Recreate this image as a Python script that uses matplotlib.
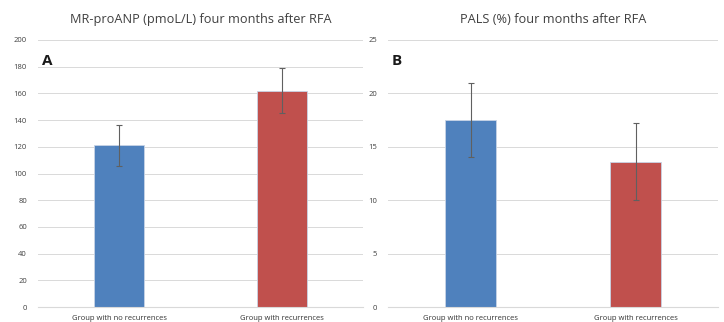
import matplotlib.pyplot as plt

plt.rcParams['font.family'] = ['Open Sans', 'DejaVu Sans']

groups = ["Group with no recurrences", "Group with recurrences"]
anp_mean = [121, 162]
anp_err = [15.5, 17]
pals_mean = [17.5, 13.6]
pals_err = [3.5, 3.6]
colors = ["#4F81BD", "#C0504D"]

fig = plt.figure(figsize=(7.24, 3.22), dpi=100)
ax_a = fig.add_axes([38 / 724, 15 / 322, 325 / 724, 267 / 322])
ax_b = fig.add_axes([388 / 724, 15 / 322, 330 / 724, 267 / 322])


def draw(ax, means, errs, ymax, step, title, letter):
    x = [0, 1]
    ax.bar(x, means, width=0.31, color=colors, edgecolor="#c8d4e6", linewidth=0.6, zorder=2)
    ax.errorbar(x, means, yerr=errs, fmt="none", ecolor="#606060", elinewidth=0.8,
                capsize=2.5, capthick=0.8, zorder=3)
    ax.set_xlim(-0.5, 1.5)
    ax.set_ylim(0, ymax)
    ax.set_yticks(range(0, ymax + 1, step))
    ax.grid(axis="y", color="#d9d9d9", linewidth=0.7, zorder=0)
    for s in ["top", "right", "left"]:
        ax.spines[s].set_visible(False)
    ax.spines["bottom"].set_color("#d9d9d9")
    ax.tick_params(axis="y", length=0, labelsize=5.5, labelcolor="#404040", pad=8)
    ax.tick_params(axis="x", length=0, labelsize=5.5, labelcolor="#333333", pad=6)
    ax.set_xticks(x)
    ax.set_xticklabels(groups)
    ax.set_title(title, fontsize=9.2, color="#404040", pad=12)
    ax.text(0.012, 0.92, letter, transform=ax.transAxes, fontsize=11, fontweight="bold",
            color="#1a1a1a", va="center")


draw(ax_a, anp_mean, anp_err, 200, 20, "MR-proANP (pmoL/L) four months after RFA", "A")
draw(ax_b, pals_mean, pals_err, 25, 5, "PALS (%) four months after RFA", "B")

fig.savefig("out.png", dpi=100)
